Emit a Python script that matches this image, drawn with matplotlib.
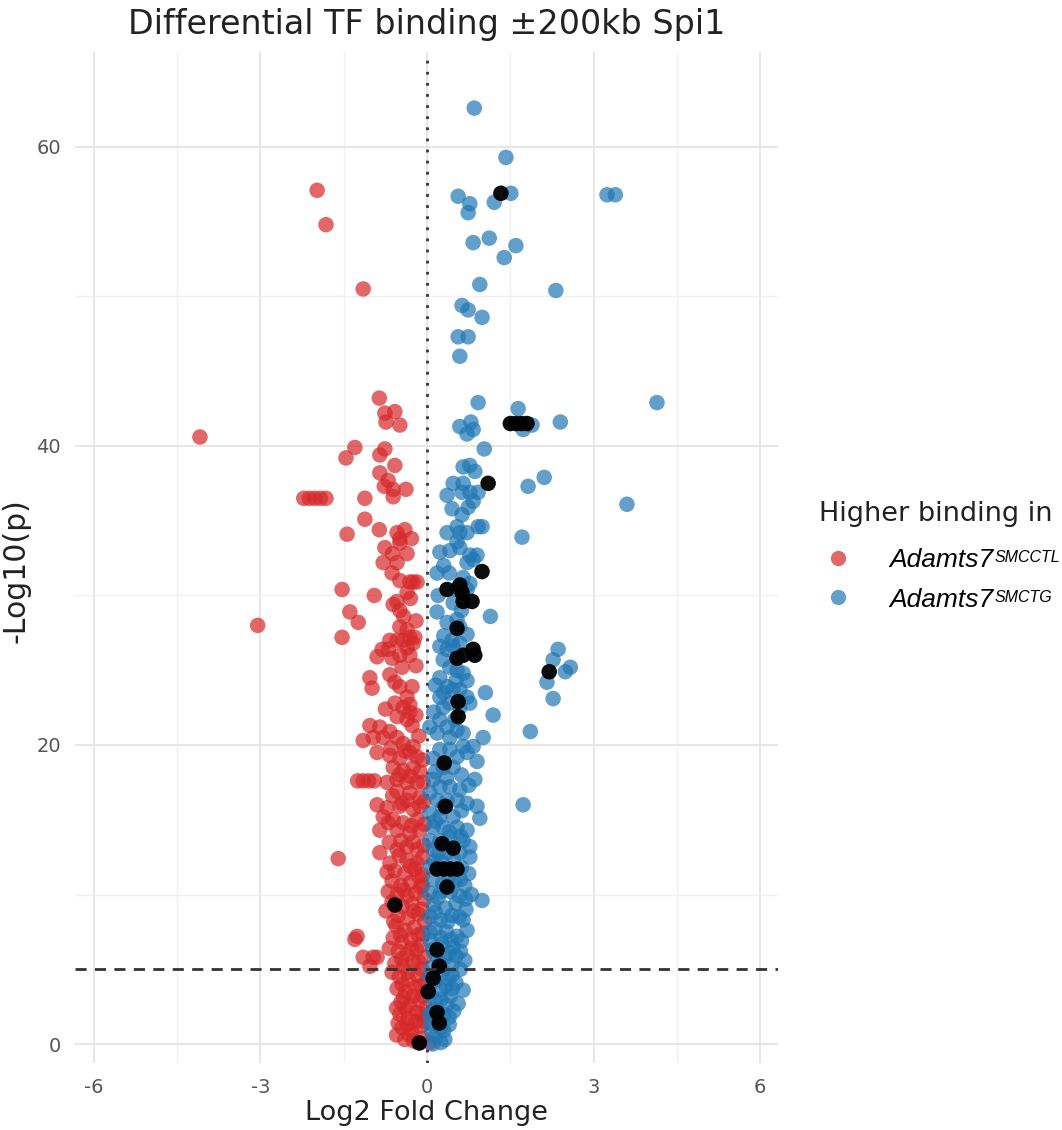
import matplotlib
matplotlib.use("Agg")
import matplotlib.pyplot as plt
from matplotlib.lines import Line2D

plt.rcParams['font.family'] = ['DejaVu Sans']

title = "Differential TF binding \u00b1200kb Spi1"
x_label = "Log2 Fold Change"
y_label = "-Log10(p)"
legend_title = "Higher binding in"
group_names = ["Adamts7", "Adamts7"]
group_sups = ["SMCCTL", "SMCTG"]
x_ticks = [-6, -3, 0, 3, 6]
y_ticks = [0, 20, 40, 60]
p_threshold = 5

# Higher binding in Adamts7 SMC-CTL (red)
red = [
    (-1.98, 57.1), (-1.82, 54.8), (-1.15, 50.5), (-4.09, 40.6), (-3.05, 28.0), (-1.60, 12.4),
    (-2.22, 36.5), (-2.12, 36.5), (-2.02, 36.5), (-1.92, 36.5), (-1.82, 36.5),
    (-0.86, 43.2), (-0.76, 42.2), (-0.58, 42.3), (-0.74, 41.6), (-0.49, 41.4),
    (-1.30, 39.9), (-1.46, 39.2), (-0.76, 39.8), (-0.85, 39.4), (-0.58, 38.7),
    (-0.85, 38.2), (-0.70, 37.7), (-0.77, 37.3), (-0.61, 37.1), (-0.38, 37.1), (-0.61, 36.6),
    (-1.12, 36.5), (-1.12, 35.1),
    (-1.44, 34.1), (-0.86, 34.4), (-0.54, 34.2), (-0.40, 34.4), (-0.49, 33.8),
    (-0.76, 33.2), (-0.49, 33.5), (-0.36, 32.8), (-0.79, 32.2), (-0.54, 32.2), (-0.63, 31.5),
    (-0.49, 31.0), (-0.31, 30.9), (-0.18, 30.9), (-0.25, 30.9), (-0.36, 30.2), (-0.54, 29.6),
    (-0.49, 29.0), (-0.61, 29.4), (-0.62, 32.8), (-0.28, 33.8), (-0.30, 29.8),
    (-1.53, 30.4), (-0.95, 30.0), (-1.39, 28.9), (-1.24, 28.2), (-1.53, 27.2),
    (-0.49, 27.9), (-0.36, 27.7), (-0.31, 27.2), (-0.22, 27.2), (-0.43, 27.0), (-0.54, 27.0),
    (-0.67, 27.0), (-0.25, 26.8), (-0.20, 28.3), (-0.42, 28.6),
    (-0.81, 26.4), (-0.70, 26.4), (-0.90, 25.9), (-0.63, 25.8), (-0.49, 26.0), (-0.31, 26.0), (-0.36, 26.5),
    (-1.03, 24.5), (-0.67, 24.7), (-0.49, 23.9), (-0.27, 23.9), (-0.99, 23.8), (-0.36, 23.2),
    (-0.58, 22.8), (-0.31, 22.7), (-0.45, 25.2), (-0.20, 25.3), (-0.58, 24.2), (-0.75, 22.4),
    (-0.43, 22.5), (-0.31, 22.2), (-0.54, 21.9), (-0.36, 21.7), (-0.27, 21.3), (-0.20, 22.0),
    (-1.03, 21.3), (-0.85, 21.2), (-0.67, 20.9), (-1.15, 20.3), (-0.97, 20.5), (-0.79, 20.5),
    (-0.54, 20.5), (-0.43, 20.1), (-0.25, 19.9), (-0.15, 20.6),
    (-0.90, 19.5), (-0.67, 19.3), (-0.49, 19.1), (-0.31, 19.5), (-0.18, 19.2),
    (-0.65, 19.8), (-0.40, 19.6), (-0.08, 19.0),
    (-0.61, 18.5), (-0.43, 18.3), (-0.25, 18.5), (-0.13, 18.2), (-0.50, 18.0), (-0.30, 17.9),
    (-1.25, 17.6), (-1.15, 17.6), (-1.05, 17.6), (-0.95, 17.6),
    (-0.72, 17.5), (-0.54, 17.7), (-0.36, 17.5), (-0.18, 17.5), (-0.07, 17.5),
    (-0.54, 16.9), (-0.31, 16.8), (-0.13, 16.5), (-0.36, 16.3), (-0.62, 16.6), (-0.45, 16.1), (-0.06, 16.2),
    (-0.90, 16.0), (-0.72, 15.8), (-0.49, 15.9), (-0.25, 15.7), (-0.13, 15.9),
    (-0.79, 15.2), (-0.61, 15.0), (-0.43, 14.8), (-0.18, 15.0), (-0.85, 14.3), (-0.54, 14.3),
    (-0.31, 14.1), (-0.13, 14.3), (-0.70, 14.8), (-0.28, 14.6), (-0.05, 14.7),
    (-0.68, 13.5), (-0.47, 13.6), (-0.25, 13.5), (-0.06, 13.3),
    (-0.85, 12.8), (-0.54, 13.0), (-0.36, 13.2), (-0.18, 13.0), (-0.67, 12.1), (-0.36, 12.3), (-0.18, 12.1),
    (-0.50, 12.6), (-0.08, 12.5),
    (-0.58, 11.6), (-0.40, 11.4), (-0.22, 11.7), (-0.08, 11.3), (-0.72, 11.5), (-0.30, 11.9), (-0.15, 11.2),
    (-0.63, 10.9), (-0.47, 10.6), (-0.30, 10.8), (-0.12, 10.5), (-0.70, 10.2),
    (-0.54, 10.0), (-0.36, 9.9), (-0.20, 10.1), (-0.05, 9.7), (-0.42, 10.3), (-0.08, 10.6),
    (-0.63, 9.5), (-0.45, 9.2), (-0.27, 9.4), (-0.10, 9.0), (-0.74, 8.9),
    (-0.52, 8.6), (-0.34, 8.4), (-0.16, 8.7), (-0.04, 8.2), (-0.60, 8.2), (-0.25, 8.9),
    (-0.56, 7.9), (-0.40, 7.6), (-0.23, 7.8), (-0.08, 7.4), (-0.48, 7.3), (-0.16, 7.3),
    (-0.61, 7.1), (-0.45, 6.8), (-0.29, 7.0), (-0.12, 6.6), (-0.68, 6.4), (-0.28, 6.4),
    (-0.52, 6.2), (-0.36, 6.0), (-0.19, 6.3), (-0.05, 5.8), (-0.46, 5.7), (-0.15, 5.5),
    (-0.58, 5.4), (-0.42, 5.2), (-0.25, 5.5), (-0.10, 5.0), (-0.63, 4.8), (-0.35, 4.8),
    (-0.50, 4.5), (-0.33, 4.3), (-0.17, 4.6), (-0.03, 4.1), (-0.45, 4.0), (-0.12, 3.9),
    (-0.54, 3.7), (-0.38, 3.5), (-0.21, 3.8), (-0.08, 3.2), (-0.42, 3.1), (-0.25, 3.2),
    (-0.47, 2.8), (-0.31, 2.6), (-0.14, 2.9), (-0.02, 2.4), (-0.55, 2.4), (-0.38, 2.3), (-0.10, 2.0),
    (-0.49, 2.0), (-0.34, 1.7), (-0.19, 2.1), (-0.06, 1.5), (-0.52, 1.4), (-0.36, 1.3), (-0.20, 1.5),
    (-0.45, 1.1), (-0.28, 0.9), (-0.12, 1.2), (-0.40, 0.3), (-0.24, 0.2), (-0.08, 0.4), (0.05, 0.1),
    (-0.55, 0.6), (-0.32, 0.6), (-0.15, 0.1),
    (-1.26, 7.2), (-1.30, 7.0), (-1.15, 5.8), (-0.97, 5.8), (-0.90, 5.8), (-1.03, 5.2),
]

# Higher binding in Adamts7 SMC-TG (blue)
blue = [
    (0.85, 62.6), (1.42, 59.3), (0.56, 56.7), (0.77, 56.2), (0.74, 55.6), (1.21, 56.3), (1.51, 56.9),
    (3.24, 56.8), (3.39, 56.8),
    (0.83, 53.6), (1.12, 53.9), (1.60, 53.4), (1.39, 52.6), (0.95, 50.8), (2.32, 50.4),
    (0.63, 49.4), (0.74, 49.1), (0.99, 48.6), (0.56, 47.3), (0.74, 47.3), (0.59, 46.0),
    (0.92, 42.9), (1.64, 42.5), (4.14, 42.9), (0.59, 41.3), (0.79, 41.6), (0.83, 41.1), (0.72, 40.8),
    (1.73, 41.1), (1.89, 41.4), (2.40, 41.6),
    (1.03, 39.8), (0.65, 38.6), (0.77, 38.7), (0.86, 38.3), (2.11, 37.9), (1.82, 37.3), (3.60, 36.1),
    (0.47, 37.5), (0.65, 37.5), (0.36, 36.7), (0.63, 36.9), (0.77, 36.9), (0.92, 36.9), (0.83, 36.3),
    (0.74, 35.9), (0.63, 35.4), (0.54, 34.6), (0.36, 34.2), (0.59, 34.2), (0.72, 34.2), (0.92, 34.6),
    (0.99, 34.6), (1.71, 33.9), (0.45, 35.8),
    (0.23, 32.9), (0.41, 33.0), (0.59, 33.2), (0.54, 33.6), (0.77, 32.7), (0.90, 32.7), (0.72, 32.2),
    (0.83, 32.4), (0.30, 32.0), (0.40, 31.5),
    (0.18, 31.5), (0.65, 31.2), (0.77, 30.8), (0.72, 30.4), (0.54, 30.4), (0.20, 30.0),
    (0.47, 29.5), (0.18, 28.9), (1.14, 28.6), (0.36, 28.2), (0.54, 28.4), (0.59, 27.9), (0.72, 27.4),
    (0.62, 29.0), (0.30, 27.3), (0.45, 27.0),
    (0.23, 26.6), (0.36, 26.4), (0.47, 26.6), (0.59, 26.8), (0.29, 25.7), (0.41, 25.2), (0.54, 25.0),
    (0.65, 24.8), (0.72, 24.3), (0.23, 24.5), (0.36, 23.9), (0.47, 23.7), (0.59, 23.7), (0.72, 23.2),
    (0.23, 23.2), (0.41, 22.8), (0.59, 22.5), (0.30, 23.5), (0.15, 24.0), (0.52, 24.3),
    (1.05, 23.5), (2.36, 26.4), (2.27, 25.7), (2.58, 25.2), (2.49, 24.9), (2.16, 24.2), (2.27, 23.1),
    (1.19, 22.0),
    (0.29, 22.5), (0.77, 22.8), (0.23, 21.7), (0.36, 21.2), (0.54, 21.0), (0.05, 21.2), (0.18, 20.8),
    (0.41, 20.5), (0.65, 20.8), (0.12, 22.2), (0.50, 21.7),
    (1.86, 20.9), (1.01, 20.5),
    (0.83, 19.9), (0.72, 19.5), (0.90, 18.9), (0.23, 19.7), (0.41, 19.7), (0.54, 19.2), (0.11, 19.1),
    (0.29, 18.5), (0.47, 18.5), (0.65, 19.9), (0.15, 18.2), (0.62, 18.0),
    (0.86, 17.7), (0.11, 17.7), (0.23, 17.2), (0.41, 17.2), (0.59, 17.0), (0.05, 16.8), (0.18, 16.3),
    (0.36, 16.3), (0.54, 16.3), (0.72, 16.1), (0.35, 17.8), (0.75, 17.3),
    (0.90, 15.9), (0.95, 15.1), (1.73, 16.0), (0.28, 15.8), (0.62, 15.6),
    (0.05, 15.4), (0.23, 15.2), (0.47, 15.2), (0.11, 14.5), (0.29, 14.5), (0.54, 14.5), (0.72, 14.3),
    (0.15, 14.9), (0.40, 14.2), (0.60, 13.9),
    (0.05, 13.6), (0.23, 13.6), (0.41, 13.8), (0.65, 13.6), (0.11, 13.0), (0.36, 12.8), (0.59, 12.8),
    (0.77, 13.2), (0.77, 12.5), (0.20, 12.8), (0.48, 12.4), (0.14, 12.2),
    (0.06, 11.9), (0.25, 12.2), (0.62, 11.8), (0.75, 11.4), (0.38, 11.2), (0.60, 11.0),
    (0.10, 11.0), (0.28, 10.7), (0.50, 10.9), (0.68, 10.6), (0.25, 10.2), (0.70, 9.7),
    (0.04, 10.1), (0.20, 9.8), (0.42, 10.2), (0.58, 9.9), (0.80, 10.0), (0.99, 9.6),
    (0.12, 9.3), (0.33, 9.1), (0.52, 9.4), (0.70, 9.0), (0.15, 8.8), (0.38, 8.2), (0.58, 8.5),
    (0.05, 8.5), (0.24, 8.3), (0.45, 8.6), (0.65, 8.3),
    (0.14, 7.7), (0.35, 7.5), (0.54, 7.2), (0.72, 7.6), (0.05, 7.5), (0.25, 7.1), (0.43, 7.0),
    (0.06, 6.9), (0.27, 6.7), (0.47, 6.5), (0.62, 6.9), (0.10, 6.3), (0.40, 6.1), (0.60, 6.2),
    (0.15, 6.0), (0.33, 5.8), (0.52, 5.9), (0.68, 5.6), (0.22, 5.4), (0.45, 5.3),
    (0.07, 5.1), (0.28, 4.9), (0.45, 4.6), (0.60, 5.0), (0.05, 4.5), (0.38, 4.4),
    (0.14, 4.2), (0.34, 3.9), (0.52, 4.1), (0.65, 3.6), (0.25, 3.6), (0.45, 3.7),
    (0.05, 3.3), (0.25, 3.0), (0.42, 3.2), (0.56, 2.7), (0.15, 2.9), (0.35, 2.6),
    (0.12, 2.3), (0.30, 2.0), (0.48, 2.2), (0.06, 1.4), (0.24, 1.1), (0.40, 1.3),
    (0.05, 2.0), (0.40, 1.8), (0.18, 1.7), (0.30, 0.9), (0.08, 0.8), (0.25, 0.1),
    (0.15, 0.5), (0.32, 0.3), (0.10, 0.0),
]

# highlighted peaks (black)
black = [
    (1.33, 56.9), (1.50, 41.5), (1.60, 41.5), (1.70, 41.5), (1.80, 41.5), (1.10, 37.5), (0.99, 31.6),
    (0.36, 30.4), (0.59, 30.7), (0.63, 30.2), (0.65, 29.6), (0.81, 29.6), (0.54, 27.8),
    (0.54, 25.8), (0.65, 26.0), (0.83, 26.4), (0.86, 26.0), (0.56, 22.9), (0.56, 21.9), (2.20, 24.9),
    (0.31, 18.8), (0.33, 15.9), (0.27, 13.4), (0.47, 13.1),
    (0.18, 11.7), (0.30, 11.7), (0.42, 11.7), (0.54, 11.7), (0.36, 10.5), (-0.58, 9.3),
    (0.18, 6.3), (0.22, 5.2), (0.11, 4.4), (0.02, 3.5), (0.18, 2.1), (0.22, 1.4), (-0.14, 0.07),
]

red_x = [p[0] for p in red]
red_y = [p[1] for p in red]
blue_x = [p[0] for p in blue]
blue_y = [p[1] for p in blue]
black_x = [p[0] for p in black]
black_y = [p[1] for p in black]

RED = "#d62728"
BLUE = "#1f77b4"
W, H = 1062, 1130

fig = plt.figure(figsize=(W / 100, H / 100), dpi=100)
ax = fig.add_axes([75/W, 1 - 1063/H, (778-75)/W, (1063-52)/H])

ax.set_xlim(-6.34, 6.32)
ax.set_ylim(-1.27, 66.35)

# grid
ax.set_xticks(x_ticks)
ax.set_yticks(y_ticks)
ax.set_xticks([-4.5, -1.5, 1.5, 4.5], minor=True)
ax.set_yticks([10, 30, 50], minor=True)
ax.grid(True, which='major', color='#e6e6e6', linewidth=1.4)
ax.grid(True, which='minor', color='#f0f0f0', linewidth=1.0)
ax.set_axisbelow(True)
for s in ax.spines.values():
    s.set_visible(False)
ax.tick_params(which='both', length=0)
ax.tick_params(axis='both', labelsize=14, labelcolor='#555555')
ax.tick_params(axis='x', pad=11)
ax.tick_params(axis='y', pad=10)
ax.set_xticklabels([str(t) for t in x_ticks])
ax.set_yticklabels([str(t) for t in y_ticks])

S = 125
ax.scatter(red_x, red_y, s=S, color=RED, alpha=0.7, edgecolors='none', zorder=3)
ax.scatter(blue_x, blue_y, s=S, color=BLUE, alpha=0.7, edgecolors='none', zorder=3)
ax.scatter(black_x, black_y, s=S, color='black', alpha=0.95, edgecolors='none', zorder=4)

ax.axvline(0, color='#333333', linestyle=(0, (1, 3)), linewidth=2.0, zorder=2)
ax.axhline(p_threshold, color='#333333', linestyle=(0, (4, 3)), linewidth=2.0, zorder=5)

ax.set_title(title, fontsize=24, pad=13, color='#222222')
ax.set_xlabel(x_label, fontsize=19.5, labelpad=2, color='#222222')
ax.set_ylabel(y_label, fontsize=21.5, color='#222222')
ax.yaxis.set_label_coords((31 - 75) / 703, (1063 - 571) / 1011)

# legend (drawn by hand to match layout)
fig.text(819/W, 1 - 521/H, legend_title, fontsize=19.5, color='#222222',
         ha='left', va='baseline')
marker_y = [558, 597]
text_base = [567, 607]
sup_base = [562, 602]
colors = [RED, BLUE]
for my, tb, sb, c, name, sup in zip(marker_y, text_base, sup_base, colors, group_names, group_sups):
    fig.add_artist(Line2D([838/W], [1 - my/H], transform=fig.transFigure, linestyle='none',
                          marker='o', markersize=11, color=c, alpha=0.7, markeredgewidth=0))
    fig.text(889/W, 1 - tb/H, name, fontsize=19, fontstyle='italic',
             family=['Liberation Sans'], color='black', ha='left', va='baseline')
    fig.text(995/W, 1 - sb/H, sup, fontsize=11.5, fontstyle='italic',
             family=['Liberation Sans'], color='black', ha='left', va='baseline')

fig.savefig("out.png", dpi=100)
